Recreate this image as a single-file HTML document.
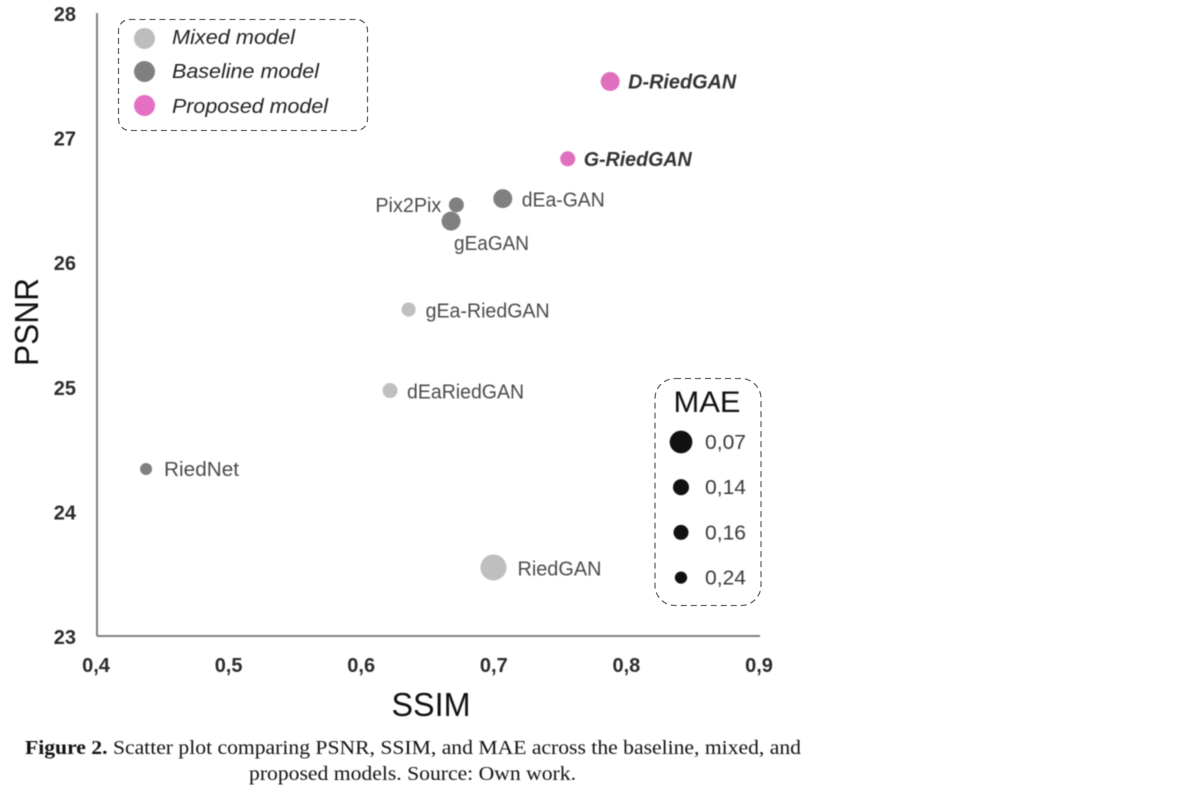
<!DOCTYPE html>
<html lang="en">
<head>
<meta charset="utf-8">
<title>Scatter plot of PSNR, SSIM and MAE</title>
<style>
  html, body { margin: 0; padding: 0; background: #fff; }
  body { width: 1188px; height: 792px; overflow: hidden; }
  svg { display: block; font-family: "Liberation Sans", "DejaVu Sans", sans-serif; }
  .soft { filter: blur(0.5px); }
</style>
</head>
<body>
<svg id="chart" width="1188" height="792" viewBox="0 0 1188 792" xmlns="http://www.w3.org/2000/svg">
  <g id="plot" class="soft"></g>
  <rect x="118.5" y="19.5" width="249" height="111" rx="11" fill="none" stroke="#666" stroke-width="1.3" stroke-dasharray="6 4"/>
  <g class="soft">
    <circle cx="144.5" cy="38.5" r="10.5" fill="#bdbdbd"/>
    <text x="172" y="44" font-size="20" font-style="italic" fill="#222" textLength="123" lengthAdjust="spacingAndGlyphs">Mixed model</text>
    <circle cx="144.5" cy="71.5" r="10.5" fill="#808080"/>
    <text x="172" y="78" font-size="20" font-style="italic" fill="#222" textLength="147" lengthAdjust="spacingAndGlyphs">Baseline model</text>
    <circle cx="144.5" cy="105.5" r="10.5" fill="#e56fc3"/>
    <text x="172" y="113" font-size="20" font-style="italic" fill="#222" textLength="156" lengthAdjust="spacingAndGlyphs">Proposed model</text>
  </g>
  <rect x="655" y="378.5" width="106" height="227" rx="20" fill="none" stroke="#666" stroke-width="1.3" stroke-dasharray="6 4"/>
  <g id="maeLegend" class="soft">
    <text x="707" y="412" font-size="30" text-anchor="middle" fill="#111" textLength="67" lengthAdjust="spacingAndGlyphs">MAE</text>
  </g>
  <g class="soft" font-family="'Liberation Serif', serif" fill="#111" font-size="20">
    <text x="25" y="754" textLength="776" lengthAdjust="spacingAndGlyphs"><tspan font-weight="bold">Figure 2.</tspan> Scatter plot comparing PSNR, SSIM, and MAE across the baseline, mixed, and</text>
    <text x="249" y="780" textLength="327" lengthAdjust="spacingAndGlyphs">proposed models. Source: Own work.</text>
  </g>
</svg>
<script>
var models = ["D-RiedGAN", "G-RiedGAN", "dEa-GAN", "Pix2Pix", "gEaGAN", "gEa-RiedGAN", "dEaRiedGAN", "RiedNet", "RiedGAN"];
var groups = ["proposed", "proposed", "baseline", "baseline", "baseline", "mixed", "mixed", "baseline", "mixed"];
var ssimValues = [0.787, 0.755, 0.706, 0.671, 0.667, 0.635, 0.621, 0.437, 0.699];
var psnrValues = [27.45, 26.83, 26.51, 26.46, 26.33, 25.62, 24.97, 24.34, 23.55];
var maeValues = [0.10, 0.16, 0.10, 0.16, 0.10, 0.18, 0.16, 0.25, 0.053];
var xTicks = [0.4, 0.5, 0.6, 0.7, 0.8, 0.9];
var yTicks = [23, 24, 25, 26, 27, 28];
var maeLegendValues = [0.07, 0.14, 0.16, 0.24];

var NS = "http://www.w3.org/2000/svg";
var plot = document.getElementById("plot");
var maeLegend = document.getElementById("maeLegend");
var groupColor = { proposed: "#e06fbe", baseline: "#808080", mixed: "#bfbfbf" };

function xScale(v) { return 97 + (v - 0.4) * 1326; }
function yScale(v) { return 636 - (v - 23) * 124.6; }
function rScale(m) { return 3 / Math.sqrt(m); }
function comma(v, digits) { return v.toFixed(digits).replace(".", ","); }

function make(parent, tag, attrs, content) {
  var el = document.createElementNS(NS, tag);
  for (var k in attrs) { el.setAttribute(k, attrs[k]); }
  if (content !== undefined) { el.textContent = content; }
  parent.appendChild(el);
  return el;
}

var xAxisLine = make(plot, "line", { x1: 97, y1: 636, x2: 760, y2: 636, stroke: "#808080", "stroke-width": 2 });


var yAxisLine = make(plot, "line", { x1: 97, y1: 13, x2: 97, y2: 636, stroke: "#808080", "stroke-width": 2 });



xTicks.forEach(function (t) {
  var el = make(plot, "text", { x: xScale(t) - 1, y: 672, "font-size": 20, "font-weight": "bold", "text-anchor": "middle", fill: "#2b2b2b" }, comma(t, 1));
  
  
});
yTicks.forEach(function (t) {
  var el = make(plot, "text", { x: 76, y: yScale(t) + 8, "font-size": 20, "font-weight": "bold", "text-anchor": "end", fill: "#2b2b2b" }, String(t));
  
  
});

var xTitle = make(plot, "text", { x: 431, y: 716, "font-size": 33, "text-anchor": "middle", fill: "#111", textLength: 79, lengthAdjust: "spacingAndGlyphs" }, "SSIM");


var yTitle = make(plot, "text", { transform: "translate(38,322) rotate(-90)", "font-size": 33, "text-anchor": "middle", fill: "#111", textLength: 88, lengthAdjust: "spacingAndGlyphs" }, "PSNR");



/* label placement relative to each mark: [anchor, dx from mark centre, dy from mark centre] */
var labelPlacement = {
  "D-RiedGAN": ["start", 18, 7], "G-RiedGAN": ["start", 16, 7], "dEa-GAN": ["start", 19, 8],
  "Pix2Pix": ["end", -15, 7], "gEaGAN": ["start", 3, 29], "gEa-RiedGAN": ["start", 17, 8],
  "dEaRiedGAN": ["start", 17, 8], "RiedNet": ["start", 18, 7], "RiedGAN": ["start", 24, 8]
};
var labelWidths = {
  "D-RiedGAN": 108, "G-RiedGAN": 108, "dEa-GAN": 83, "Pix2Pix": 66, "gEaGAN": 75,
  "gEa-RiedGAN": 124, "dEaRiedGAN": 117, "RiedNet": 75, "RiedGAN": 84
};

models.forEach(function (name, i) {
  var cx = xScale(ssimValues[i]);
  var cy = yScale(psnrValues[i]);
  var dot = make(plot, "circle", { cx: cx, cy: cy, r: rScale(maeValues[i]), fill: groupColor[groups[i]] });
  
  
  var p = labelPlacement[name];
  var isProposed = groups[i] === "proposed";
  var attrs = { x: cx + p[1], y: cy + p[2], "font-size": 20, "text-anchor": p[0], fill: isProposed ? "#333" : "#4a4a4a", textLength: labelWidths[name], lengthAdjust: "spacingAndGlyphs" };
  if (isProposed) { attrs["font-weight"] = "bold"; attrs["font-style"] = "italic"; }
  var label = make(plot, "text", attrs, name);
  
  
});

maeLegendValues.forEach(function (m, i) {
  var cy = 442 + i * 45.2;
  var dot = make(maeLegend, "circle", { cx: 681, cy: cy, r: rScale(m), fill: "#111" });
  
  
  var label = make(maeLegend, "text", { x: 705, y: cy + 7, "font-size": 20, fill: "#3a3a3a", textLength: 41, lengthAdjust: "spacingAndGlyphs" }, comma(m, 2));
  
  
});
</script>
</body>
</html>
